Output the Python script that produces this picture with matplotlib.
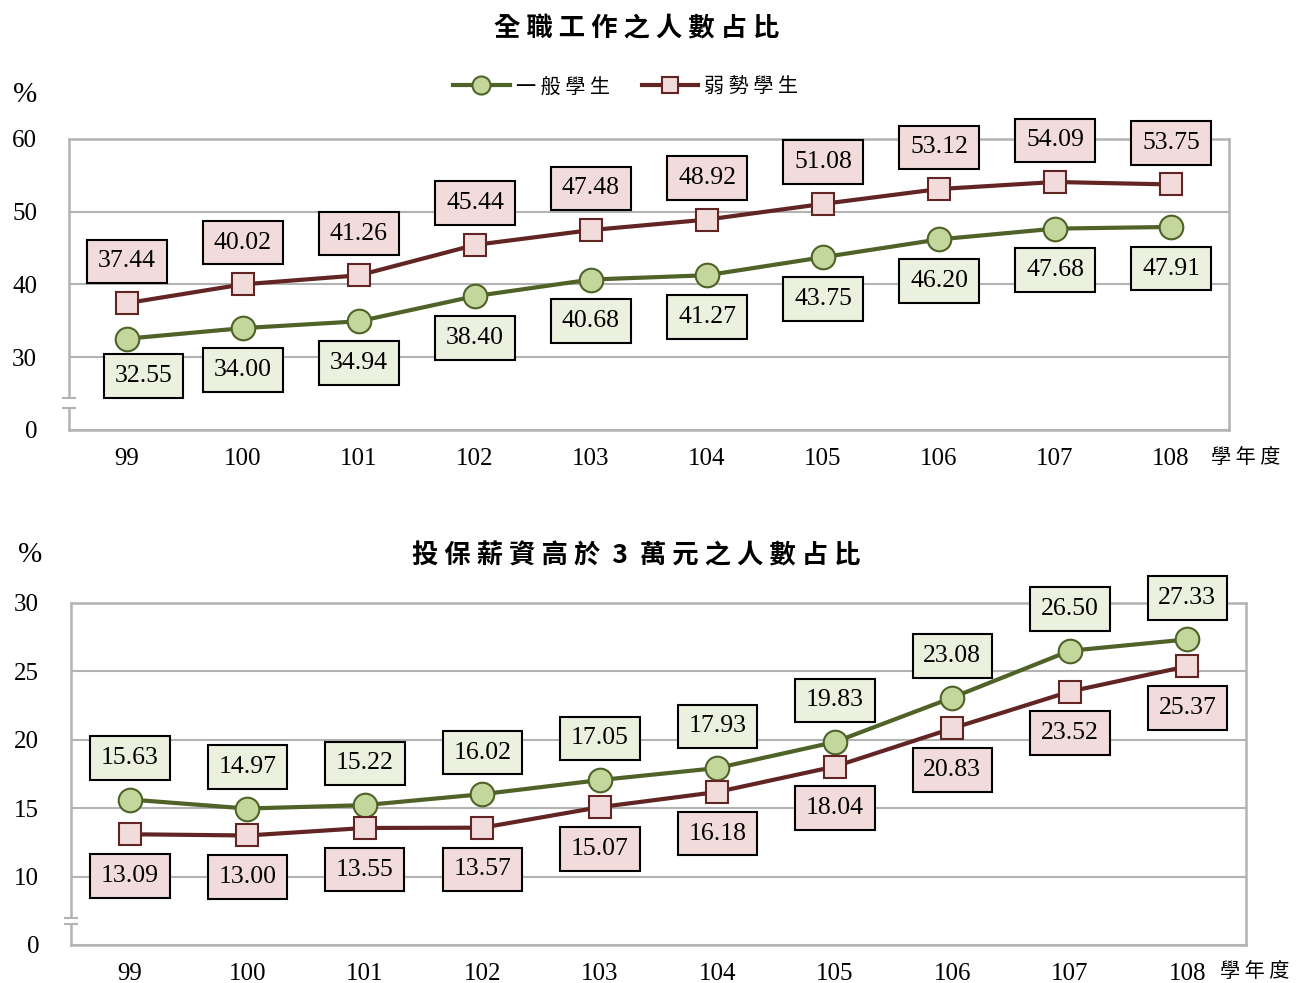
import matplotlib.pyplot as plt
from matplotlib.lines import Line2D

# --- data ---
years = ['99', '100', '101', '102', '103', '104', '105', '106', '107', '108']

fulltime_general = [32.55, 34.00, 34.94, 38.40, 40.68, 41.27, 43.75, 46.20, 47.68, 47.91]
fulltime_disadv = [37.44, 40.02, 41.26, 45.44, 47.48, 48.92, 51.08, 53.12, 54.09, 53.75]

salary_general = [15.63, 14.97, 15.22, 16.02, 17.05, 17.93, 19.83, 23.08, 26.50, 27.33]
salary_disadv = [13.09, 13.00, 13.55, 13.57, 15.07, 16.18, 18.04, 20.83, 23.52, 25.37]

top_ticks = [20, 30, 40, 50, 60]
top_ticklabels = ['0', '30', '40', '50', '60']
bot_ticks = [5, 10, 15, 20, 25, 30]
bot_ticklabels = ['0', '10', '15', '20', '25', '30']

# --- styles ---
CJK = ['Noto Sans CJK TC', 'DejaVu Sans']
SERIF = ['Liberation Serif', 'DejaVu Serif']
GREEN_LINE, GREEN_FACE, GREEN_BOX = '#4F6228', '#C3D69B', '#EBF1DE'
RED_LINE, RED_FACE, RED_BOX = '#632523', '#F2DCDB', '#F2DCDB'
GRID = '#B3B3B3'


def draw_panel(ax, general, disadv, ylim, ticks, ticklabels, brk, general_above):
    x = list(range(len(years)))
    ax.plot(x, general, color=GREEN_LINE, lw=3, marker='o', ms=17,
            mfc=GREEN_FACE, mec=GREEN_LINE, mew=1.5, zorder=3)
    ax.plot(x, disadv, color=RED_LINE, lw=3, marker='s', ms=16,
            mfc=RED_FACE, mec=RED_LINE, mew=1.5, zorder=3)

    ax.set_xlim(-0.5, len(years) - 0.5)
    ax.set_ylim(*ylim)
    ax.set_yticks(ticks)
    ax.set_yticklabels(ticklabels, fontfamily=SERIF, fontsize=18)
    ax.set_xticks(x)
    ax.set_xticklabels(years, fontfamily=SERIF, fontsize=18)
    ax.tick_params(axis='y', length=0, pad=23)
    ax.tick_params(axis='x', length=0, pad=13)
    ax.grid(axis='y', color=GRID, lw=1.5, zorder=0)
    for s in ax.spines.values():
        s.set_color(GRID)
        s.set_linewidth(1.8)

    # axis break marks on the y axis
    ax.axhspan(brk[1], brk[0], xmin=-0.01, xmax=0.01, color='white',
               zorder=4, clip_on=False, lw=0)
    for yb in brk:
        ax.plot([-0.005, 0.005], [yb, yb], transform=ax.get_yaxis_transform(),
                color=GRID, lw=1.5, clip_on=False, zorder=5)

    off = 30
    g_off = off if general_above else -off
    box_kw = dict(boxstyle='square,pad=0.42', ec='black', lw=1.5)
    for i, v in enumerate(general):
        dx, dy = 0, g_off
        if not general_above and i == 0:
            dx, dy = 12, -27
        ax.annotate(f'{v:.2f}', (i, v), xytext=(dx, dy), textcoords='offset points',
                    ha='center', va='center', fontfamily=SERIF, fontsize=18.5,
                    bbox=dict(fc=GREEN_BOX, **box_kw), zorder=6)
    for i, v in enumerate(disadv):
        ax.annotate(f'{v:.2f}', (i, v), xytext=(0, -g_off), textcoords='offset points',
                    ha='center', va='center', fontfamily=SERIF, fontsize=18.5,
                    bbox=dict(fc=RED_BOX, **box_kw), zorder=6)


fig = plt.figure(figsize=(13.01, 9.83), dpi=100)

ax1 = fig.add_axes([0.053, 0.5626, 0.8917, 0.296])
draw_panel(ax1, fulltime_general, fulltime_disadv, (20, 60), top_ticks,
           top_ticklabels, (24.4, 23.0), general_above=False)

ax2 = fig.add_axes([0.0546, 0.0387, 0.9032, 0.348])
draw_panel(ax2, salary_general, salary_disadv, (5, 30), bot_ticks,
           bot_ticklabels, (7.0, 6.5), general_above=True)

# titles
fig.text(0.4895, 0.971, '全 職 工 作 之 人 數 占 比', ha='center', va='center',
         fontfamily=CJK, fontsize=19, fontweight='bold')
fig.text(0.489, 0.435, '投 保 薪 資 高 於  3  萬 元 之 人 數 占 比', ha='center', va='center',
         fontfamily=CJK, fontsize=19, fontweight='bold')

# unit labels
fig.text(0.019, 0.903, '%', ha='center', va='center', fontfamily=SERIF, fontsize=21)
fig.text(0.023, 0.435, '%', ha='center', va='center', fontfamily=SERIF, fontsize=21)
fig.text(0.931, 0.535, '學 年 度', ha='left', va='center', fontfamily=CJK, fontsize=14.5)
fig.text(0.938, 0.012, '學 年 度', ha='left', va='center', fontfamily=CJK, fontsize=14.5)

# legend
handles = [
    Line2D([], [], color=GREEN_LINE, lw=3, marker='o', ms=13, mfc=GREEN_FACE,
           mec=GREEN_LINE, mew=1.5),
    Line2D([], [], color=RED_LINE, lw=3, marker='s', ms=12, mfc=RED_FACE,
           mec=RED_LINE, mew=1.5),
]
fig.legend(handles, ['一 般 學 生', '弱 勢 學 生'], loc='center', ncol=2,
           bbox_to_anchor=(0.481, 0.9115), frameon=False, handlelength=2.8,
           handletextpad=0.3, columnspacing=1.6,
           prop={'family': CJK, 'size': 14.5})

fig.savefig('out.png', dpi=100)
